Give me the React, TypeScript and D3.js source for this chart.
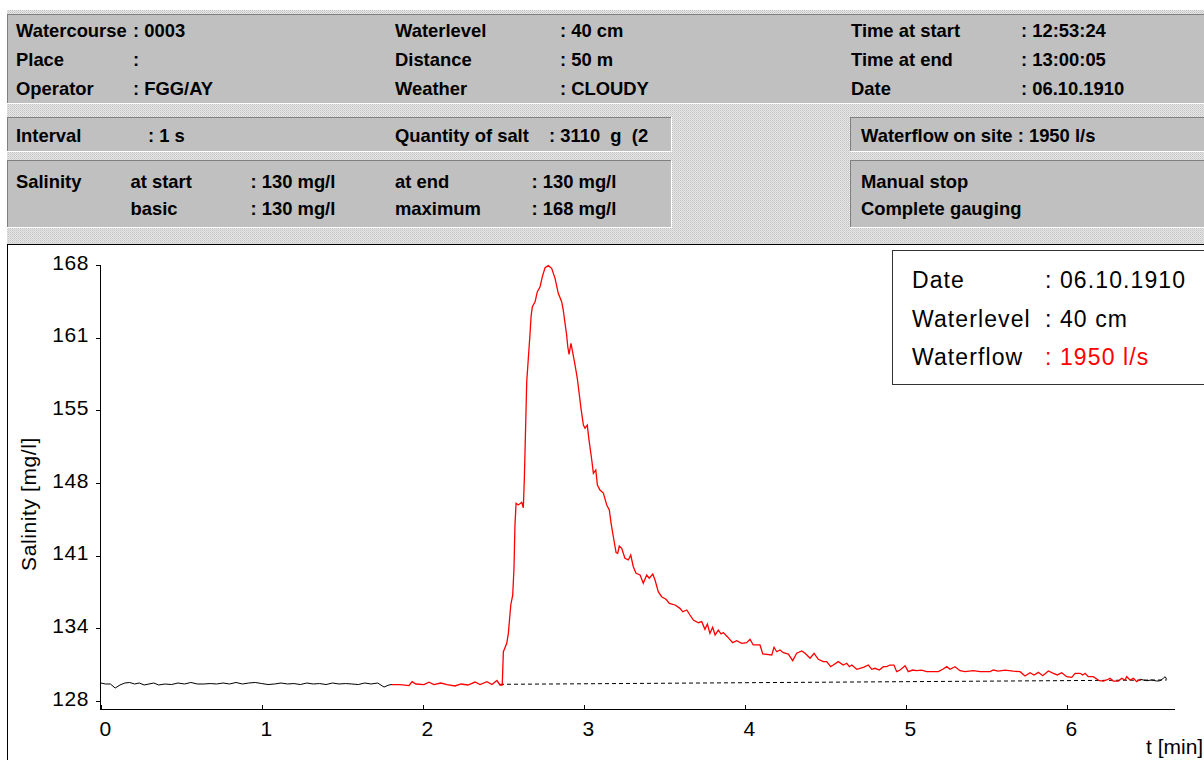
import React from 'react';
import * as d3 from 'd3';

// ---------- data ----------
const yTickLabels = ['128', '134', '141', '148', '155', '161', '168'];
const xTickValues = [0, 1, 2, 3, 4, 5, 6];

// black trace before the salt wave (t [min], salinity [mg/l])
const baselineStart: [number, number][] = [
  [0.0, 129.65], [0.03, 129.56], [0.06, 129.56], [0.09, 129.19], [0.12, 129.47], [0.15, 129.65],
  [0.18, 129.7], [0.21, 129.56], [0.24, 129.65], [0.27, 129.47], [0.3, 129.56], [0.33, 129.65],
  [0.36, 129.47], [0.4, 129.56], [0.44, 129.51], [0.48, 129.65], [0.52, 129.56], [0.56, 129.7],
  [0.6, 129.56], [0.64, 129.56], [0.68, 129.6], [0.72, 129.56], [0.76, 129.65], [0.8, 129.56],
  [0.84, 129.7], [0.88, 129.56], [0.92, 129.65], [0.96, 129.7], [1.0, 129.6], [1.04, 129.51],
  [1.08, 129.56], [1.12, 129.65], [1.16, 129.56], [1.2, 129.6], [1.24, 129.51], [1.28, 129.65],
  [1.32, 129.56], [1.36, 129.6], [1.4, 129.51], [1.44, 129.65], [1.48, 129.56], [1.52, 129.6],
  [1.56, 129.56], [1.6, 129.51], [1.64, 129.65], [1.68, 129.56], [1.72, 129.65], [1.76, 129.28],
  [1.79, 129.47], [1.809, 129.51],
];

// red trace: the salt wave
const saltWave: [number, number][] = [
  [1.809, 129.51], [1.859, 129.51], [1.915, 129.42], [1.934, 129.77], [1.958, 129.56], [2.008, 129.51],
  [2.039, 129.72], [2.07, 129.51], [2.113, 129.65], [2.151, 129.51], [2.201, 129.38], [2.238, 129.56],
  [2.281, 129.47], [2.325, 129.74], [2.356, 129.51], [2.399, 129.77], [2.43, 129.51], [2.461, 129.88],
  [2.48, 129.47], [2.494, 129.47],
  [2.501, 132.52], [2.522, 133.29], [2.532, 134.21], [2.547, 136.81], [2.559, 137.72], [2.567, 140.2],
  [2.573, 144.15], [2.58, 146.14], [2.594, 145.98], [2.615, 146.23], [2.625, 145.73], [2.631, 148.28],
  [2.64, 153.62], [2.646, 157.29], [2.656, 159.44], [2.666, 161.58], [2.673, 163.26], [2.681, 164.17],
  [2.698, 164.63], [2.712, 165.55], [2.729, 166.01], [2.743, 166.93], [2.76, 167.75], [2.78, 167.94],
  [2.801, 167.7], [2.822, 166.78], [2.842, 165.4], [2.863, 164.63], [2.873, 163.87], [2.884, 162.65],
  [2.894, 161.58], [2.901, 160.5], [2.909, 159.81], [2.921, 160.82], [2.929, 160.2], [2.946, 158.83],
  [2.96, 157.61], [2.973, 156.07], [2.983, 154.85], [2.998, 153.32], [3.008, 153.02], [3.022, 153.32],
  [3.033, 151.94], [3.05, 150.11], [3.06, 148.89], [3.075, 149.19], [3.085, 147.82], [3.101, 147.36],
  [3.122, 147.08], [3.143, 145.98], [3.159, 145.52], [3.17, 144.3], [3.184, 143.07], [3.201, 141.61],
  [3.211, 141.55], [3.221, 142.22], [3.236, 142.01], [3.256, 141.09], [3.277, 140.94], [3.292, 141.39],
  [3.308, 140.32], [3.325, 139.72], [3.35, 139.56], [3.37, 138.8], [3.391, 139.56], [3.407, 139.26],
  [3.429, 139.65], [3.443, 139.1], [3.463, 138.03], [3.484, 137.57], [3.511, 137.33], [3.532, 136.96],
  [3.567, 136.81], [3.598, 136.5], [3.615, 136.19], [3.64, 136.35], [3.66, 135.89], [3.681, 135.43],
  [3.712, 135.18], [3.733, 135.28], [3.753, 134.58], [3.768, 135.06], [3.784, 134.21], [3.801, 134.76],
  [3.816, 134.06], [3.836, 134.51], [3.853, 134.15], [3.867, 134.27], [3.892, 133.9], [3.925, 133.35],
  [3.95, 133.53], [3.981, 133.29], [4.012, 133.35], [4.033, 133.66], [4.053, 133.14], [4.095, 133.14],
  [4.112, 132.31], [4.168, 132.22], [4.182, 132.93], [4.199, 132.52], [4.219, 132.68], [4.24, 132.43],
  [4.271, 132.31], [4.298, 131.7], [4.323, 132.38], [4.354, 132.59], [4.375, 132.38], [4.406, 131.92],
  [4.431, 132.38], [4.457, 131.83], [4.488, 131.61], [4.509, 131.61], [4.534, 131.15], [4.55, 131.3],
  [4.581, 131.61], [4.612, 131.3], [4.634, 131.46], [4.65, 131.15], [4.665, 131.3], [4.696, 130.91],
  [4.737, 131.09], [4.768, 131.3], [4.789, 130.91], [4.809, 131.0], [4.836, 130.84], [4.861, 131.15],
  [4.882, 131.15], [4.902, 131.3], [4.927, 131.3], [4.944, 130.69], [4.965, 130.84], [4.996, 131.24],
  [5.016, 130.69], [5.043, 130.84], [5.068, 130.78], [5.099, 130.84], [5.13, 130.69], [5.151, 130.69],
  [5.203, 130.69], [5.23, 130.91], [5.255, 131.15], [5.275, 130.91], [5.306, 131.15], [5.337, 130.78],
  [5.368, 130.69], [5.42, 130.78], [5.462, 130.69], [5.524, 130.69], [5.544, 130.84], [5.575, 130.75],
  [5.617, 130.84], [5.668, 130.75], [5.71, 130.69], [5.741, 130.29], [5.772, 130.6], [5.797, 130.39],
  [5.824, 130.63], [5.851, 130.32], [5.886, 130.75], [5.917, 130.54], [5.942, 130.39], [5.969, 130.6],
  [6.0, 130.23], [6.031, 130.17], [6.052, 130.54], [6.083, 130.54], [6.099, 130.39], [6.114, 130.54],
  [6.134, 130.23], [6.165, 130.23], [6.202, 129.86], [6.227, 129.83], [6.248, 129.93], [6.269, 130.08],
  [6.289, 129.83], [6.321, 129.83], [6.342, 130.08], [6.362, 129.93], [6.373, 130.23], [6.393, 129.93],
  [6.414, 130.08], [6.435, 129.77], [6.456, 129.99],
];

// black trace after the salt wave
const baselineEnd: [number, number][] = [
  [6.456, 129.99], [6.497, 129.86], [6.528, 129.93], [6.559, 129.83], [6.58, 129.86], [6.6, 130.08],
  [6.611, 130.23], [6.621, 129.99],
];

// dashed basic salinity line
const basicLevel: [number, number][] = [[2.48, 129.53], [6.621, 129.93]];

const headerLeft = [['Watercourse', ': 0003'], ['Place', ':'], ['Operator', ': FGG/AY']];
const headerMid = [['Waterlevel', ': 40 cm'], ['Distance', ': 50 m'], ['Weather', ': CLOUDY']];
const headerRight = [['Time at start', ': 12:53:24'], ['Time at end', ': 13:00:05'], ['Date', ': 06.10.1910']];
const intervalRow = ['Interval', ': 1 s'];
const saltRow = ['Quantity of salt', ': 3110  g  (2'];
const waterflowSite = 'Waterflow on site : 1950 l/s';
const salinityRows = [
  ['Salinity', 'at start', ': 130 mg/l', 'at end', ': 130 mg/l'],
  ['', 'basic', ': 130 mg/l', 'maximum', ': 168 mg/l'],
];
const statusRows = ['Manual stop', 'Complete gauging'];
const legendRows = [['Date', ': 06.10.1910'], ['Waterlevel', ': 40 cm'], ['Waterflow', ': 1950 l/s']];

// ---------- layout ----------
const W = 1204;
const H = 760;
const FONT = "'Liberation Sans', Arial, Helvetica, sans-serif";

function Panel({ x, y, w, h }: { x: number; y: number; w: number; h: number }) {
  return (
    <g shapeRendering="crispEdges">
      <rect x={x} y={y} width={w} height={h} fill="#c0c0c0" />
      <line x1={x} y1={y + 0.5} x2={x + w} y2={y + 0.5} stroke="#808080" />
      <line x1={x + 0.5} y1={y} x2={x + 0.5} y2={y + h} stroke="#808080" />
      <line x1={x} y1={y + h - 0.5} x2={x + w} y2={y + h - 0.5} stroke="#ffffff" />
      <line x1={x + w - 0.5} y1={y} x2={x + w - 0.5} y2={y + h} stroke="#ffffff" />
    </g>
  );
}

export default function App() {
  const x = d3.scaleLinear().domain([0, 6.675]).range([100.7, 1175.4]);
  const y = d3.scaleLinear().domain([128, 168]).range([701, 265]);
  const yTicks = d3.range(yTickLabels.length).map((i) => 128 + (i * 40) / (yTickLabels.length - 1));
  const line = d3
    .line<[number, number]>()
    .x((d) => x(d[0]))
    .y((d) => y(d[1]));

  const hdr: React.CSSProperties = { fontFamily: FONT, fontSize: 18.4, fontWeight: 700 };
  const rowY = [37, 66, 95];
  const axisY = 709.5;
  const axisX = 100.5;

  return (
    <svg
      width={W}
      height={H}
      style={{ position: 'absolute', left: 0, top: 0, background: '#fff' }}
      viewBox={`0 0 ${W} ${H}`}
    >
      <defs>
        <pattern id="dither" width="2" height="2" patternUnits="userSpaceOnUse">
          <rect width="2" height="2" fill="#e6e6e6" />
          <rect width="1" height="1" fill="#c4c4c4" />
          <rect x="1" y="1" width="1" height="1" fill="#d2d2d2" />
        </pattern>
      </defs>
      <rect x={0} y={0} width={W} height={H} fill="#fff" />
      {/* header background */}
      <rect x={7} y={10} width={W - 7} height={234} fill="url(#dither)" shapeRendering="crispEdges" />
      <Panel x={7} y={14} w={W - 7 + 2} h={90} />
      <Panel x={7} y={117} w={665} h={35} />
      <Panel x={850} y={117} w={W - 850 + 2} h={35} />
      <Panel x={7} y={160} w={665} h={68} />
      <Panel x={850} y={160} w={W - 850 + 2} h={68} />

      <g style={hdr} fill="#000">
        {headerLeft.map((r, i) => (
          <g key={'l' + i}>
            <text x={16} y={rowY[i]}>{r[0]}</text>
            <text x={133} y={rowY[i]}>{r[1]}</text>
          </g>
        ))}
        {headerMid.map((r, i) => (
          <g key={'m' + i}>
            <text x={395} y={rowY[i]}>{r[0]}</text>
            <text x={560} y={rowY[i]}>{r[1]}</text>
          </g>
        ))}
        {headerRight.map((r, i) => (
          <g key={'r' + i}>
            <text x={851} y={rowY[i]}>{r[0]}</text>
            <text x={1021} y={rowY[i]}>{r[1]}</text>
          </g>
        ))}
        <text x={16} y={142}>{intervalRow[0]}</text>
        <text x={148} y={142}>{intervalRow[1]}</text>
        <text x={395} y={142}>{saltRow[0]}</text>
        <text x={549} y={142} style={{ whiteSpace: 'pre' }}>{saltRow[1]}</text>
        <text x={861} y={142}>{waterflowSite}</text>
        {salinityRows.map((r, i) => (
          <g key={'s' + i}>
            <text x={16} y={188 + i * 27}>{r[0]}</text>
            <text x={130.5} y={188 + i * 27}>{r[1]}</text>
            <text x={250.5} y={188 + i * 27}>{r[2]}</text>
            <text x={395} y={188 + i * 27}>{r[3]}</text>
            <text x={531.5} y={188 + i * 27}>{r[4]}</text>
          </g>
        ))}
        {statusRows.map((s, i) => (
          <text key={'st' + i} x={861} y={188 + i * 27}>{s}</text>
        ))}
      </g>

      {/* plot panel */}
      <rect x={7} y={244} width={W - 7} height={H - 244} fill="#fff" />
      <line x1={7.5} y1={244} x2={7.5} y2={H} stroke="#000" />
      <line x1={7} y1={244.5} x2={W} y2={244.5} stroke="#000" />

      {/* axes */}
      <g stroke="#000" strokeWidth={1} shapeRendering="crispEdges">
        <line x1={axisX} y1={y(168)} x2={axisX} y2={axisY} />
        <line x1={axisX} y1={axisY} x2={x(6.675)} y2={axisY} />
        {yTicks.map((t, i) => (
          <line key={'yt' + i} x1={axisX - 5} y1={Math.round(y(t)) + 0.5} x2={axisX} y2={Math.round(y(t)) + 0.5} />
        ))}
        {xTickValues.map((t) => (
          <line key={'xt' + t} x1={Math.round(x(t)) + 0.5} y1={axisY - 5} x2={Math.round(x(t)) + 0.5} y2={axisY} />
        ))}
      </g>
      <g style={{ fontFamily: FONT, fontSize: 21, letterSpacing: 0.6 }} fill="#000">
        {yTicks.map((t, i) => (
          <text key={'yl' + i} x={89} y={y(t) + 4.5} textAnchor="end">{yTickLabels[i]}</text>
        ))}
        {xTickValues.map((t) => (
          <text key={'xl' + t} x={x(t) + 5} y={736} textAnchor="middle">{String(t)}</text>
        ))}
        <text x={1146} y={754} style={{ letterSpacing: 0 }}>t [min]</text>
        <text transform="translate(36,504) rotate(-90)" textAnchor="middle">Salinity [mg/l]</text>
      </g>

      {/* traces */}
      <path d={line(basicLevel) || ''} fill="none" stroke="#000" strokeWidth={1} strokeDasharray="4 3" />
      <path d={line(baselineStart) || ''} fill="none" stroke="#000" strokeWidth={1} />
      <path d={line(baselineEnd) || ''} fill="none" stroke="#000" strokeWidth={1} />
      <path d={line(saltWave) || ''} fill="none" stroke="#ff0000" strokeWidth={1.3} />

      {/* legend */}
      <rect x={892.5} y={250.5} width={W - 892} height={134} fill="#fff" stroke="#333" strokeWidth={1} />
      <g style={{ fontFamily: FONT, fontSize: 23, letterSpacing: 1.1 }}>
        {legendRows.map((r, i) => (
          <g key={'lg' + i}>
            <text x={912} y={288 + i * 38.5} fill="#000">{r[0]}</text>
            <text x={1045} y={288 + i * 38.5} fill={i === 2 ? '#ff0000' : '#000'}>{r[1]}</text>
          </g>
        ))}
      </g>
    </svg>
  );
}
